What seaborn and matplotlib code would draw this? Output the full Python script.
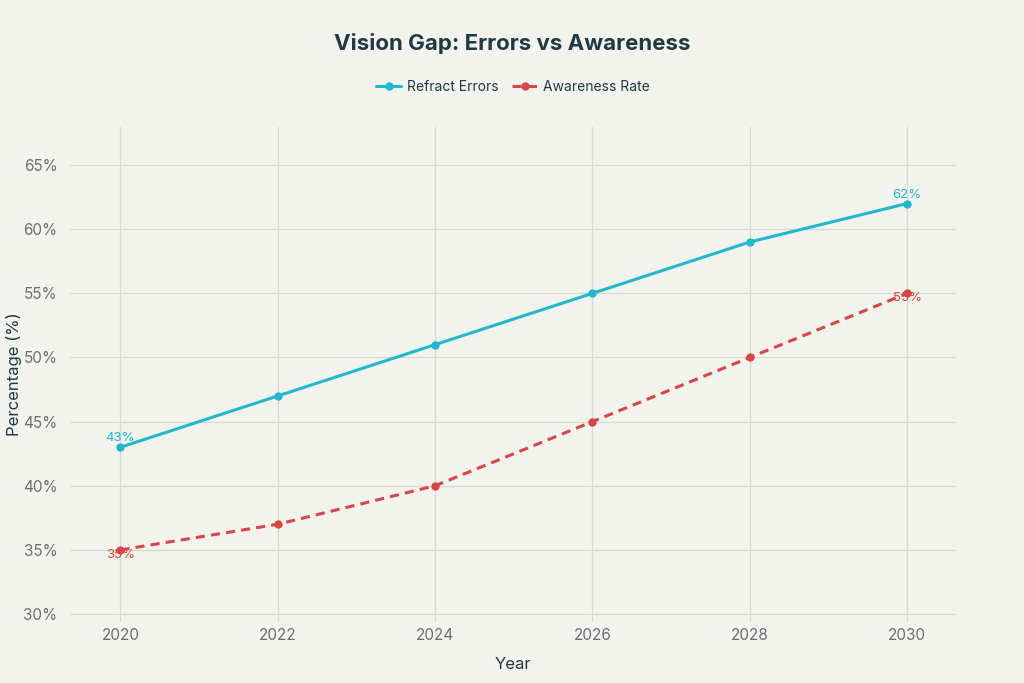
import matplotlib
matplotlib.use("Agg")
import matplotlib.pyplot as plt
import seaborn as sns
import pandas as pd
from matplotlib.ticker import FuncFormatter

years = [2020, 2022, 2024, 2026, 2028, 2030]
refract_errors = [43, 47, 51, 55, 59, 62]
awareness_rate = [35, 37, 40, 45, 50, 55]
series_names = ["Refract Errors", "Awareness Rate"]
colors = ["#1FB8CD", "#DB4545"]

df = pd.DataFrame({
    "Year": years * 2,
    "Value": refract_errors + awareness_rate,
    "Series": [series_names[0]] * len(years) + [series_names[1]] * len(years),
})

sns.set_theme(style="whitegrid")
plt.rcParams['font.family'] = ['Inter', 'DejaVu Sans']
bg = "#F3F3EE"
fig = plt.figure(figsize=(10.24, 6.83), dpi=100, facecolor=bg)
ax = fig.add_axes([0.0684, 0.0893, 0.8652, 0.7247])
ax.set_facecolor(bg)

sns.lineplot(data=df, x="Year", y="Value", hue="Series", style="Series",
             hue_order=series_names, style_order=series_names,
             palette=colors, dashes={series_names[0]: "", series_names[1]: (3, 2)},
             markers={series_names[0]: "o", series_names[1]: "o"},
             markersize=6, markeredgewidth=0, linewidth=2.2, ax=ax)

ax.set_xlim(2019.36, 2030.62)
ax.set_ylim(29.38, 67.96)
ax.set_xticks(years)
ax.set_yticks([30, 35, 40, 45, 50, 55, 60, 65])
ax.yaxis.set_major_formatter(FuncFormatter(lambda v, p: f"{v:.0f}%"))
ax.grid(True, color="#D9D9D4", linewidth=0.9)
for s in ax.spines.values():
    s.set_visible(False)
ax.tick_params(axis="both", colors="#6B6E73", labelsize=11, length=0)
ax.tick_params(axis="y", length=5, color="#D9D9D4", pad=4)
ax.tick_params(axis="x", pad=4)

# annotations
ax.annotate(f"{refract_errors[0]}%", (years[0], refract_errors[0]), xytext=(0, 2),
            textcoords="offset points", ha="center", va="bottom", color=colors[0], fontsize=9.5)
ax.annotate(f"{refract_errors[-1]}%", (years[-1], refract_errors[-1]), xytext=(0, 2),
            textcoords="offset points", ha="center", va="bottom", color=colors[0], fontsize=9.5)
ax.annotate(f"{awareness_rate[0]}%", (years[0], awareness_rate[0]), xytext=(0, 1),
            textcoords="offset points", ha="center", va="top", color=colors[1], fontsize=9.5)
ax.annotate(f"{awareness_rate[-1]}%", (years[-1], awareness_rate[-1]), xytext=(0, 1),
            textcoords="offset points", ha="center", va="top", color=colors[1], fontsize=9.5)

ax.set_xlabel("Year", fontsize=12, color="#1F3A44")
ax.set_ylabel("Percentage (%)", fontsize=12, color="#1F3A44")
ax.yaxis.set_label_coords(-0.054, 0.5)
ax.xaxis.set_label_coords(0.5, -(657 - 622) / 495)

leg = ax.legend(loc="center", bbox_to_anchor=(0.5, 1.0 + 40/495), ncol=2, frameon=False,
                fontsize=10, handlelength=1.8, columnspacing=1.0, handletextpad=0.4)
for t in leg.get_texts():
    t.set_color("#1F3A44")

fig.text(0.5, 1 - 43/683, "Vision Gap: Errors vs Awareness", ha="center", va="center",
         fontsize=16, fontweight="bold", color="#1F3A44")

fig.savefig("out.png", dpi=100, facecolor=bg)
